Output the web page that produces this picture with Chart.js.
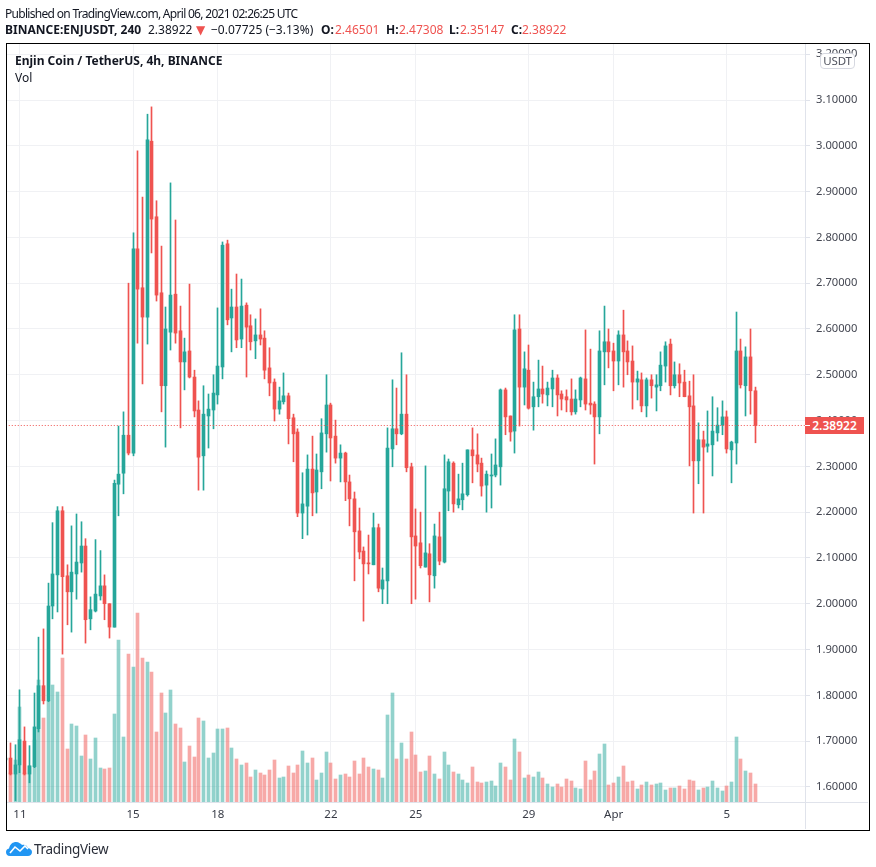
<!DOCTYPE html>
<html>
<head>
<meta charset="utf-8">
<title>ENJUSDT</title>
<script src="https://cdn.jsdelivr.net/npm/chart.js@4"></script>
<style>
  html, body { margin: 0; padding: 0; background: #fff; }
  body { width: 876px; height: 867px; position: relative; overflow: hidden; font-family: "Noto Sans", sans-serif; color: #131722; }
  canvas { position: absolute; left: 0; top: 0; }
  .txt { position: absolute; white-space: nowrap; font-size: 12px; line-height: 16px; letter-spacing: -0.7px; }
  .b { font-weight: 700; letter-spacing: 0; }
  .num { letter-spacing: 0; }
  .red { color: #ef5350; }
  #frame { position: absolute; left: 6px; top: 43px; width: 862px; height: 786px; border: 1.5px solid #000; }
  #vline { position: absolute; left: 805px; top: 44px; width: 1px; height: 785px; background: #e0e3eb; }
  #hline { position: absolute; left: 7px; top: 802px; width: 861px; height: 1px; background: #e0e3eb; }
  #unit { position: absolute; left: 820px; top: 53px; width: 33px; height: 14px; line-height: 14px; border: 1px solid #d6d8e0; border-radius: 4px; background: #fff; font-size: 11.5px; text-align: center; color: #50535e; letter-spacing: -0.2px; }
  #lastTag { position: absolute; left: 805px; width: 59px; height: 17px; line-height: 17px; background: #ef5350; color: #fff; font-size: 12px; font-weight: 600; text-align: center; }
  #lastTag::before { content: ""; position: absolute; left: 0; top: 8px; width: 5px; height: 1px; background: #fff; }
</style>
</head>
<body>
<canvas id="candles" width="876" height="867"></canvas>
<div id="vline"></div>
<div id="hline"></div>
<div id="frame"></div>

<div class="txt" style="left:5px;top:6px">Published on TradingView.com, April 06, 2021 02:26:25 UTC</div>
<div class="txt b" style="left:5px;top:22px">BINANCE:ENJUSDT, 240</div>
<div class="txt num" style="left:148px;top:22px">2.38922</div>
<div class="txt red" style="left:196px;top:22px;font-family:'DejaVu Sans';letter-spacing:0">▼</div>
<div class="txt num" style="left:211px;top:22px">−0.07725 (−3.13%)</div>
<div class="txt b" style="left:321px;top:22px">O:</div>
<div class="txt red num" style="left:335px;top:22px">2.46501</div>
<div class="txt b" style="left:386px;top:22px">H:</div>
<div class="txt red num" style="left:399px;top:22px">2.47308</div>
<div class="txt b" style="left:449px;top:22px">L:</div>
<div class="txt red num" style="left:460px;top:22px">2.35147</div>
<div class="txt b" style="left:511px;top:22px">C:</div>
<div class="txt red num" style="left:522px;top:22px">2.38922</div>
<div class="txt b" style="left:15px;top:53px">Enjin Coin / TetherUS, 4h, BINANCE</div>
<div class="txt" style="left:15px;top:70px;letter-spacing:0">Vol</div>
<div id="unit">USDT</div>
<div id="lastTag"></div>

<svg style="position:absolute;left:6px;top:841px" width="26" height="16" viewBox="0 0 26 16">
  <path d="M4 15 C1 15 0 13 0 11 C0 9 1 8 3 7.5 C4 3 7 1 10 1 C13 1 15 3 16 4 C18 3 21 4 22 7 C24 7.5 26 9 26 11 C26 13.5 24 15 22 15 Z" fill="#2196f3"/>
  <polyline points="4,12 9,6 14,10 19,5 22,8" fill="none" stroke="#fff" stroke-width="1.6"/>
</svg>
<div class="txt" style="left:34px;top:841px;font-size:13.5px;letter-spacing:-0.3px;color:#2a2e39">TradingView</div>

<script>
const lastClose = 2.38922;

const opens = [
  1.659, 1.663, 1.628, 1.648, 1.700, 1.628, 1.644, 1.727, 1.821, 1.788, 1.995, 2.063, 2.203, 2.061, 2.026, 2.065,
  2.089, 2.126, 1.967, 1.984, 2.017, 2.039, 2.000, 1.949, 2.261, 2.285, 2.368, 2.329, 2.775, 2.690, 2.626, 3.010,
  2.845, 2.679, 2.476, 2.593, 2.676, 2.596, 2.528, 2.552, 2.495, 2.423, 2.323, 2.410, 2.423, 2.456, 2.517, 2.786,
  2.624, 2.648, 2.578, 2.652, 2.607, 2.574, 2.587, 2.580, 2.515, 2.484, 2.425, 2.441, 2.454, 2.406, 2.375, 2.198,
  2.213, 2.294, 2.244, 2.288, 2.371, 2.434, 2.366, 2.318, 2.329, 2.266, 2.229, 2.159, 2.115, 2.089, 2.085, 2.166,
  2.032, 2.050, 2.338, 2.382, 2.371, 2.414, 2.299, 2.148, 2.133, 2.080, 2.109, 2.061, 2.146, 2.091, 2.246, 2.307,
  2.216, 2.227, 2.238, 2.336, 2.325, 2.307, 2.259, 2.279, 2.281, 2.299, 2.467, 2.410, 2.377, 2.600, 2.473, 2.510,
  2.430, 2.452, 2.469, 2.456, 2.469, 2.493, 2.458, 2.452, 2.447, 2.419, 2.445, 2.491, 2.438, 2.436, 2.408, 2.550,
  2.572, 2.552, 2.530, 2.587, 2.552, 2.530, 2.484, 2.489, 2.432, 2.489, 2.473, 2.476, 2.519, 2.567, 2.476, 2.500,
  2.484, 2.454, 2.432, 2.312, 2.358, 2.344, 2.347, 2.373, 2.390, 2.408, 2.336, 2.351, 2.552, 2.476, 2.539, 2.46501
];
const highs = [
  1.663, 1.696, 1.692, 1.812, 1.731, 1.690, 1.805, 1.927, 1.945, 2.045, 2.177, 2.212, 2.212, 2.085, 2.170, 2.196,
  2.179, 2.142, 2.015, 2.140, 2.116, 2.063, 2.000, 2.270, 2.388, 2.419, 2.700, 2.810, 2.989, 2.888, 3.069, 3.085,
  2.880, 2.781, 2.648, 2.919, 2.838, 2.650, 2.580, 2.698, 2.510, 2.443, 2.476, 2.458, 2.500, 2.646, 2.790, 2.794,
  2.687, 2.720, 2.709, 2.657, 2.631, 2.622, 2.644, 2.596, 2.559, 2.491, 2.473, 2.504, 2.460, 2.414, 2.382, 2.286,
  2.325, 2.366, 2.327, 2.404, 2.500, 2.438, 2.401, 2.347, 2.331, 2.281, 2.244, 2.209, 2.124, 2.150, 2.198, 2.174,
  2.078, 2.384, 2.489, 2.471, 2.548, 2.500, 2.307, 2.207, 2.200, 2.301, 2.131, 2.174, 2.200, 2.325, 2.316, 2.310,
  2.283, 2.307, 2.336, 2.384, 2.371, 2.318, 2.290, 2.327, 2.360, 2.469, 2.471, 2.410, 2.631, 2.631, 2.550, 2.565,
  2.484, 2.532, 2.519, 2.484, 2.510, 2.500, 2.465, 2.467, 2.491, 2.467, 2.495, 2.598, 2.556, 2.441, 2.596, 2.650,
  2.600, 2.569, 2.596, 2.641, 2.574, 2.563, 2.508, 2.504, 2.493, 2.500, 2.500, 2.550, 2.572, 2.578, 2.528, 2.524,
  2.510, 2.486, 2.500, 2.395, 2.377, 2.421, 2.452, 2.428, 2.443, 2.421, 2.355, 2.637, 2.578, 2.561, 2.600, 2.47308
];
const lows = [
  1.659, 1.626, 1.570, 1.631, 1.626, 1.609, 1.642, 1.720, 1.781, 1.786, 1.967, 1.982, 1.890, 1.954, 1.938, 2.010,
  2.069, 1.914, 1.943, 1.982, 2.008, 1.965, 1.925, 1.949, 2.192, 2.240, 2.325, 2.323, 2.569, 2.480, 2.567, 2.766,
  2.661, 2.419, 2.342, 2.554, 2.569, 2.384, 2.467, 2.493, 2.408, 2.248, 2.248, 2.340, 2.382, 2.436, 2.491, 2.609,
  2.550, 2.559, 2.559, 2.495, 2.554, 2.535, 2.565, 2.491, 2.454, 2.399, 2.414, 2.436, 2.349, 2.310, 2.190, 2.142,
  2.150, 2.192, 2.198, 2.251, 2.331, 2.268, 2.307, 2.266, 2.225, 2.170, 2.050, 2.098, 1.962, 2.065, 2.085, 2.026,
  2.000, 2.000, 2.299, 2.347, 2.369, 2.288, 2.000, 2.010, 2.078, 2.080, 2.004, 2.034, 2.085, 2.089, 2.203, 2.200,
  2.209, 2.205, 2.235, 2.264, 2.288, 2.235, 2.200, 2.209, 2.277, 2.259, 2.369, 2.355, 2.329, 2.388, 2.434, 2.425,
  2.379, 2.430, 2.438, 2.432, 2.430, 2.410, 2.423, 2.419, 2.412, 2.414, 2.430, 2.423, 2.414, 2.305, 2.371, 2.478,
  2.515, 2.465, 2.478, 2.473, 2.500, 2.425, 2.445, 2.419, 2.408, 2.449, 2.421, 2.465, 2.484, 2.456, 2.471, 2.452,
  2.452, 2.301, 2.198, 2.262, 2.198, 2.331, 2.279, 2.355, 2.369, 2.329, 2.264, 2.305, 2.471, 2.410, 2.414, 2.35147
];
const closes = [
  1.663, 1.628, 1.648, 1.703, 1.628, 1.646, 1.731, 1.821, 1.788, 1.995, 2.065, 2.203, 2.059, 2.026, 2.069, 2.091,
  2.126, 1.965, 1.987, 2.021, 2.039, 2.000, 1.949, 2.263, 2.283, 2.368, 2.329, 2.775, 2.687, 2.626, 3.013, 2.840,
  2.674, 2.476, 2.600, 2.674, 2.591, 2.528, 2.550, 2.495, 2.421, 2.320, 2.414, 2.425, 2.460, 2.519, 2.783, 2.620,
  2.648, 2.576, 2.650, 2.604, 2.572, 2.587, 2.578, 2.510, 2.482, 2.425, 2.443, 2.454, 2.404, 2.371, 2.198, 2.218,
  2.294, 2.242, 2.292, 2.373, 2.434, 2.362, 2.318, 2.329, 2.266, 2.229, 2.157, 2.113, 2.087, 2.087, 2.166, 2.034,
  2.052, 2.340, 2.382, 2.371, 2.414, 2.297, 2.146, 2.126, 2.083, 2.111, 2.063, 2.148, 2.093, 2.251, 2.310, 2.218,
  2.229, 2.240, 2.336, 2.323, 2.305, 2.257, 2.283, 2.281, 2.303, 2.467, 2.408, 2.375, 2.598, 2.473, 2.513, 2.427,
  2.452, 2.469, 2.458, 2.471, 2.493, 2.456, 2.447, 2.445, 2.419, 2.447, 2.493, 2.436, 2.434, 2.408, 2.552, 2.572,
  2.550, 2.530, 2.587, 2.550, 2.528, 2.484, 2.491, 2.432, 2.489, 2.476, 2.478, 2.521, 2.563, 2.476, 2.500, 2.482,
  2.452, 2.430, 2.312, 2.358, 2.342, 2.349, 2.377, 2.390, 2.408, 2.338, 2.353, 2.552, 2.478, 2.539, 2.465, 2.38922
];
// no scale on the picture for these, read as relative height
const volumes = [
  0, 29, 42, 95, 29, 36, 62, 122, 84, 101, 117, 110, 144, 53, 78, 76,
  46, 67, 43, 64, 34, 33, 34, 88, 162, 65, 148, 135, 189, 144, 140, 130,
  70, 109, 89, 112, 78, 74, 40, 56, 45, 84, 81, 44, 49, 73, 73, 74,
  54, 43, 37, 39, 25, 32, 29, 27, 32, 42, 24, 25, 36, 29, 37, 51,
  39, 44, 22, 29, 50, 39, 23, 27, 28, 25, 41, 28, 44, 35, 33, 32,
  24, 87, 109, 43, 59, 43, 70, 47, 30, 31, 46, 28, 23, 50, 37, 30,
  28, 22, 19, 35, 20, 19, 20, 21, 16, 39, 35, 22, 63, 50, 24, 27,
  25, 30, 24, 18, 15, 18, 15, 23, 21, 14, 13, 41, 22, 31, 48, 58,
  17, 19, 25, 36, 20, 21, 13, 17, 20, 17, 18, 19, 12, 14, 14, 16,
  13, 22, 21, 12, 14, 15, 21, 14, 11, 16, 20, 65, 43, 31, 29, 18
];
const priceTicks = [1.6, 1.7, 1.8, 1.9, 2.0, 2.1, 2.2, 2.3, 2.4, 2.5, 2.6, 2.7, 2.8, 2.9, 3.0, 3.1, 3.2];
const dayTicks = [3, 27, 45, 69, 87, 111, 129, 153];
const dayLabels = ['11', '15', '18', '22', '25', '29', 'Apr', '5'];

const UP = '#26a69a';
const DOWN = '#ef5350';
const UP_VOL = 'rgba(38,166,154,0.5)';
const DOWN_VOL = 'rgba(239,83,80,0.5)';
const isUp = closes.map((c, i) => c >= opens[i]);
const candleColors = isUp.map(u => u ? UP : DOWN);
const volColors = isUp.map(u => u ? UP_VOL : DOWN_VOL);

// snap bars to whole pixels so 1px wicks stay crisp
const snapBars = {
  id: 'snapBars',
  afterDatasetsUpdate(chart) {
    chart.data.datasets.forEach((ds, i) => {
      if (ds.type === 'line') return;
      chart.getDatasetMeta(i).data.forEach(el => { el.x = Math.floor(el.x) + 0.5; });
    });
  }
};

const chart = new Chart(document.getElementById('candles'), {
  type: 'bar',
  data: {
    datasets: [
      {
        type: 'line',
        data: [{ x: 0, y: lastClose }, { x: 170, y: lastClose }],
        borderColor: DOWN,
        borderWidth: 1,
        borderDash: [1, 2],
        pointRadius: 0,
        order: 0
      },
      {
        data: opens.map((o, i) => ({ x: i, y: [o, closes[i]] })),
        backgroundColor: candleColors,
        barThickness: 3,
        minBarLength: 1,
        order: 1
      },
      {
        data: highs.map((h, i) => ({ x: i, y: [lows[i], h] })),
        backgroundColor: candleColors,
        barThickness: 1,
        order: 2
      },
      {
        data: volumes.map((v, i) => ({ x: i, y: v })),
        backgroundColor: volColors,
        barThickness: 3,
        yAxisID: 'volume',
        order: 3
      }
    ]
  },
  options: {
    responsive: false,
    animation: false,
    devicePixelRatio: 1,
    grouped: false,
    layout: { padding: { left: 7, top: 43, right: 7, bottom: 37 } },
    plugins: { legend: { display: false }, tooltip: { enabled: false } },
    scales: {
      x: {
        type: 'linear',
        offset: false,
        min: 0.26,
        max: 169.6,
        grid: { color: '#f0f1f4', drawTicks: false, offset: false },
        border: { display: false },
        afterBuildTicks: axis => { axis.ticks = dayTicks.map(v => ({ value: v })); },
        afterFit: axis => { axis.height = 28; },
        ticks: {
          autoSkip: false,
          maxRotation: 0,
          padding: 6,
          color: '#363a45',
          font: { family: '"Noto Sans"', size: 11.5 },
          callback: value => dayLabels[dayTicks.indexOf(value)]
        }
      },
      y: {
        type: 'linear',
        position: 'right',
        min: 1.567,
        max: 3.2245,
        grid: { color: '#f0f1f4', tickColor: '#e0e3eb', tickLength: 5 },
        border: { display: false },
        afterBuildTicks: axis => { axis.ticks = priceTicks.map(v => ({ value: v })); },
        afterFit: axis => { axis.width = 64; },
        ticks: {
          autoSkip: false,
          padding: 6,
          color: '#434651',
          font: { family: '"Noto Sans"', size: 11.2 },
          callback: value => value.toFixed(5)
        }
      },
      volume: { type: 'linear', display: false, min: 0, max: 759 }
    }
  },
  plugins: [snapBars]
});

const tag = document.getElementById('lastTag');
tag.textContent = lastClose.toFixed(5);
tag.style.top = Math.round(chart.scales.y.getPixelForValue(lastClose) - 8.5) + 'px';
</script>
</body>
</html>
